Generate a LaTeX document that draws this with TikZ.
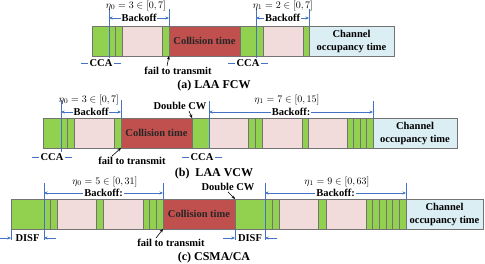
\documentclass[tikz,border=0pt]{standalone}
\usepackage{fontspec}
\setmainfont{Liberation Serif}
\usetikzlibrary{positioning,arrows.meta}
\definecolor{slotgreen}{HTML}{92D050}
\definecolor{idlepink}{HTML}{F2DCDB}
\definecolor{colred}{HTML}{C0504D}
\definecolor{cotblue}{HTML}{DBEEF4}
\definecolor{dimblue}{RGB}{68,114,196}
\begin{document}
\begin{tikzpicture}[x=1pt,y=-1pt,
seg/.style={draw=black!55,minimum height=30pt,inner sep=0pt,outer sep=0pt,font=\fontsize{10.5}{12}\bfseries\selectfont},
gr/.style={seg,fill=slotgreen},
pk/.style={seg,fill=idlepink},
col/.style={seg,fill=colred,text=black!85},
cot/.style={seg,fill=cotblue,align=center,font=\fontsize{10.5}{13}\bfseries\selectfont},
dim/.style={draw=dimblue,line width=0.7pt},
dimarr/.style={dim,{Stealth[length=3.5pt,width=3pt]}-{Stealth[length=3.5pt,width=3pt]}},
dimtip/.style={dim,-{Stealth[length=3.5pt,width=3pt]}},
lbl/.style={font=\fontsize{10.5}{12}\bfseries\selectfont,inner sep=1pt,fill=white},
eta/.style={font=\fontsize{10}{12}\selectfont,inner sep=1pt},
note/.style={-{Stealth[length=3.5pt,width=3pt]},line width=0.6pt},
subcap/.style={font=\fontsize{12}{14}\bfseries\selectfont}
]
\useasboundingbox (0,0) rectangle (485,264);
% (a) LAA FCW
\coordinate (a0) at (92,41);
\foreach \k/\w/\t [count=\i, remember=\i as \j (initially 0)] in {gr/17/,gr/6.5/,gr/6.5/,pk/40/,gr/7/,col/71/Collision time,gr/16/,gr/7/,pk/40/,gr/6/,cot/85/{Channel\\occupancy time}}
  \node[\k,minimum width=\w pt,right=0pt of a\j] (a\i) {\t};
\draw[dim] (a1.east |- 0,9) -- (a1.east |- 0,63);
\draw[dim] (a5.east |- 0,9) -- (a5.north east);
\draw[dimarr] (a1.east |- 0,18) -- node[lbl] {Backoff} (a5.east |- 0,18);
\node[eta] (etaa0) at (136,6) {$\eta_0 = 3 \in [0,7]$};
\draw[dim] (a7.east |- 0,9) -- (a7.east |- 0,63);
\draw[dim] (a10.east |- 0,9) -- (a10.north east);
\draw[dimarr] (a7.east |- 0,18) -- node[lbl] {Backoff} (a10.east |- 0,18);
\node[eta] (etaa1) at (283,6) {$\eta_1 = 2 \in [0,7]$};
\node[lbl] (ccaa0) at (101,63) {CCA};
\draw[dim] (ccaa0.west) -- ++(-7,0) (ccaa0.east) -- ++(7,0);
\node[lbl] (ccaa1) at (248,63) {CCA};
\draw[dim] (ccaa1.west) -- ++(-7,0) (ccaa1.east) -- ++(7,0);
\node[lbl,fill=none] (faila) at (178,71) {fail to transmit};
\draw[note] ([xshift=-11pt]faila.north) -- (a5.south east);
\node[subcap] (capa) at (214,86) {(a) LAA FCW};
% (b) LAA VCW
\coordinate (b0) at (43,133);
\foreach \k/\w/\t [count=\i, remember=\i as \j (initially 0)] in {gr/18/,gr/6.5/,gr/6.5/,pk/40/,gr/7/,col/71/Collision time,gr/17/,pk/39/,gr/7/,gr/7/,pk/40/,gr/6.5/,pk/38.5/,gr/6.5/,gr/6.5/,gr/6.5/,gr/6.5/,cot/84/{Channel\\occupancy time}}
  \node[\k,minimum width=\w pt,right=0pt of b\j] (b\i) {\t};
\draw[dim] (b1.east |- 0,100) -- (b1.east |- 0,157);
\draw[dim] (b5.east |- 0,100) -- (b5.north east);
\draw[dimarr] (b1.east |- 0,112) -- node[lbl] {Backoff} (b5.east |- 0,112);
\node[eta] (etab0) at (89,100) {$\eta_0 = 3 \in [0,7]$};
\draw[dim] (b7.east |- 0,101) -- (b7.south east);
\draw[dim] (b17.east |- 0,101) -- (b17.north east);
\draw[dimarr] (b7.east |- 0,112) -- node[lbl] {Backoff:} (b17.east |- 0,112);
\node[eta] (etab1) at (287,100) {$\eta_1 = 7 \in [0,15]$};
\node[lbl,fill=none] (dcwb) at (180,106) {Double CW};
\draw[note] ([xshift=9pt]dcwb.south) -- (b6.north east);
\node[lbl] (ccab0) at (52,157) {CCA};
\draw[dim] (ccab0.west) -- ++(-7,0) (ccab0.east) -- ++(7,0);
\node[lbl] (ccab1) at (202,157) {CCA};
\draw[dim] (ccab1.west) -- ++(-7,0) (ccab1.east) -- ++(7,0);
\node[lbl,fill=none] (failb) at (132,161) {fail to transmit};
\draw[note] ([xshift=-20pt]failb.north) -- (b5.south east);
\node[subcap] (capb) at (214,174) {(b)\ \ LAA VCW};
% (c) CSMA/CA
\coordinate (c0) at (11,214);
\foreach \k/\w/\t [count=\i, remember=\i as \j (initially 0)] in {gr/33/,gr/6.5/,gr/6.5/,pk/39/,gr/7/,pk/40/,gr/6.67/,gr/6.67/,gr/6.66/,col/72/Collision time,gr/30/,gr/7/,gr/7/,pk/39/,gr/8/,pk/40/,gr/6.67/,gr/6.67/,gr/6.66/,gr/6.67/,gr/6.67/,gr/6.66/,cot/77/{Channel\\occupancy time}}
  \node[\k,minimum width=\w pt,right=0pt of c\j] (c\i) {\t};
\draw[dim] (c1.east |- 0,183) -- (c1.east |- 0,240);
\draw[dim] (c9.east |- 0,183) -- (c9.north east);
\draw[dimarr] (c1.east |- 0,193) -- node[lbl] {Backoff:} (c9.east |- 0,193);
\node[eta] (etac0) at (105,182) {$\eta_0 = 5 \in [0,31]$};
\draw[dim] (c11.east |- 0,183) -- (c11.east |- 0,240);
\draw[dim] (c22.east |- 0,183) -- (c22.north east);
\draw[dimarr] (c11.east |- 0,193) -- node[lbl] {Backoff:} (c22.east |- 0,193);
\node[eta] (etac1) at (337,182) {$\eta_1 = 9 \in [0,63]$};
\node[lbl,fill=none] (dcwc) at (228,187) {Double CW};
\draw[note] ([xshift=0pt]dcwc.south) -- (c10.north east);
% DISF
\draw[dim] (c1.south west) -- (c1.west |- 0,240);
\draw[dim] (c10.south east) -- (c10.east |- 0,240);
\node[lbl] (disfc0) at (27.5,238) {DISF};
\node[lbl] (disfc1) at (250,238) {DISF};
\coordinate (dl0) at (0,238);
\coordinate (dr0) at (56,238);
\coordinate (dl1) at (223,238);
\coordinate (dr1) at (277,238);
\draw[dimtip] (dl0) -- (dl0 -| c1.west);
\draw[dimtip] (dr0) -- (dr0 -| c1.east);
\draw[dimtip] (dl1) -- (dl1 -| c10.east);
\draw[dimtip] (dr1) -- (dr1 -| c11.east);
\node[lbl,fill=none] (failc) at (171,243) {fail to transmit};
\draw[note] ([xshift=-15pt]failc.north) -- (c9.south east);
\node[subcap] (capc) at (214,258) {(c) CSMA/CA};
\end{tikzpicture}
\end{document}
